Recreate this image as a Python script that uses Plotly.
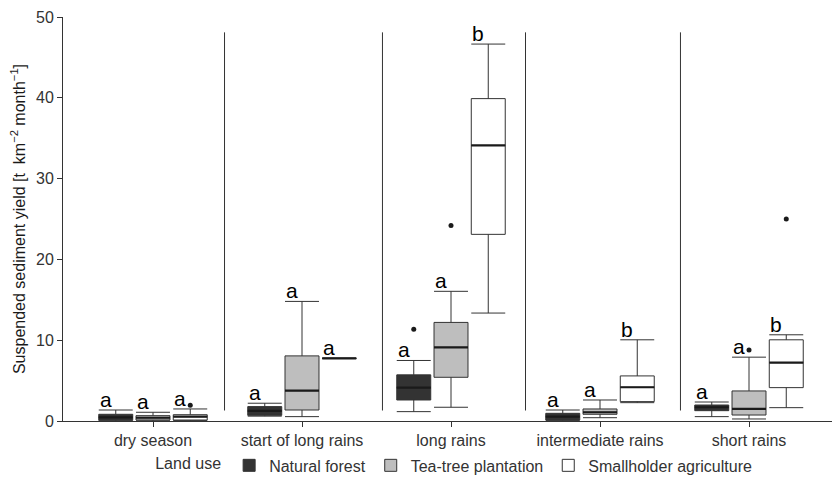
import plotly.graph_objects as go

seasons = ["dry season", "start of long rains", "long rains", "intermediate rains", "short rains"]
land_uses = ["Natural forest", "Tea-tree plantation", "Smallholder agriculture"]

forest_lower = [0.0, 0.6, 1.16, 0.05, 0.54]
forest_q1 = [0.08, 0.7, 2.6, 0.12, 1.28]
forest_median = [0.45, 1.25, 4.14, 0.55, 1.7]
forest_q3 = [0.83, 1.78, 5.71, 0.95, 1.98]
forest_upper = [1.36, 2.2, 7.49, 1.36, 2.35]
forest_out_season = ["long rains"]
forest_out_value = [11.37]
forest_letters = ["a", "a", "a", "a", "a"]

tea_lower = [0.03, 0.54, 1.7, 0.41, 0.25]
tea_q1 = [0.12, 1.36, 5.41, 0.83, 0.74]
tea_median = [0.4, 3.76, 9.1, 1.08, 1.49]
tea_q3 = [0.66, 8.06, 12.2, 1.49, 3.72]
tea_upper = [1.08, 14.8, 16.05, 2.6, 7.9]
tea_out_season = ["long rains", "short rains"]
tea_out_value = [24.2, 8.8]
tea_letters = ["a", "a", "a", "a", "a"]

sa_lower = [0.05, 7.75, 13.36, 2.27, 1.65]
sa_q1 = [0.12, 7.75, 23.1, 2.4, 4.13]
sa_median = [0.53, 7.75, 34.1, 4.18, 7.23]
sa_q3 = [0.78, 7.75, 39.9, 5.58, 10.05]
sa_upper = [1.49, 7.75, 46.65, 10.05, 10.67]
sa_out_season = ["dry season", "short rains"]
sa_out_value = [1.95, 25.0]
sa_letters = ["a", "a", "b", "b", "b"]

separator_x = [0.48, 1.54, 2.5, 3.54]
separator_y = [1.3, 48.1]

FONT = "Liberation Sans, Arial, sans-serif"
fills = ["#333333", "#BEBEBE", "#FFFFFF"]
offsets = [-0.25, 0.0, 0.25]
box_w = 0.228
W, H = 832, 487
ml, mt, mb = 63, 17, 66
xr = [-0.604, 4.557]
px_per_x = (W - ml) / (xr[1] - xr[0])

groups = [
    (forest_lower, forest_q1, forest_median, forest_q3, forest_upper, forest_out_season, forest_out_value, forest_letters),
    (tea_lower, tea_q1, tea_median, tea_q3, tea_upper, tea_out_season, tea_out_value, tea_letters),
    (sa_lower, sa_q1, sa_median, sa_q3, sa_upper, sa_out_season, sa_out_value, sa_letters),
]

fig = go.Figure()

for sx in separator_x:
    fig.add_trace(go.Scatter(x=[sx, sx], y=separator_y, mode="lines",
                             line=dict(color="#333333", width=1), showlegend=False, hoverinfo="skip"))

annotations = []
for gi, (lo, q1, med, q3, up, os_, ov, lets) in enumerate(groups):
    xs = [i + offsets[gi] for i in range(len(seasons))]
    fig.add_trace(go.Box(
        x=xs, q1=q1, median=med, q3=q3, lowerfence=lo, upperfence=up,
        width=box_w, whiskerwidth=1, boxpoints=False,
        fillcolor=fills[gi], line=dict(color="#333333", width=1),
        name=land_uses[gi], legendgroup=land_uses[gi], showlegend=True,
    ))
    # thicker median line
    fig.add_trace(go.Scatter(
        x=xs, y=med, mode="markers",
        marker=dict(symbol="line-ew", size=box_w * px_per_x / 1.4, color="#1a1a1a",
                    line=dict(color="#1a1a1a", width=2.2)),
        showlegend=False, hoverinfo="skip"))
    # outliers
    oxs = [seasons.index(s) + offsets[gi] for s in os_]
    fig.add_trace(go.Scatter(
        x=oxs, y=ov, mode="markers",
        marker=dict(symbol="circle", size=5, color="#1a1a1a"),
        showlegend=False, hoverinfo="skip"))
    for i, l in enumerate(lets):
        annotations.append(dict(x=xs[i], y=up[i], text=l, showarrow=False,
                                xanchor="center", yanchor="bottom", xshift=-10, yshift=-3,
                                font=dict(family=FONT, size=21, color="#000000")))

fig.update_layout(
    width=W, height=H,
    margin=dict(l=ml, r=0, t=mt, b=mb),
    paper_bgcolor="white", plot_bgcolor="white",
    boxmode="overlay",
    font=dict(family=FONT, size=16, color="#333333"),
    annotations=annotations,
    legend=dict(orientation="h", x=0.51, xanchor="center", y=-0.11, yanchor="middle",
                bgcolor="rgba(0,0,0,0)",
                title=dict(text="Land use", font=dict(size=16, color="#333333")),
                font=dict(size=16, color="#333333"), itemwidth=30, traceorder="normal"),
    xaxis=dict(range=xr, tickmode="array", tickvals=list(range(len(seasons))), ticktext=seasons,
               showgrid=False, zeroline=False, showline=True, linecolor="#333333", linewidth=1,
               ticks="outside", ticklen=5, tickcolor="#333333",
               tickfont=dict(size=16, color="#333333")),
    yaxis=dict(range=[0, 50], tickvals=[0, 10, 20, 30, 40, 50],
               showgrid=False, zeroline=False, showline=True, linecolor="#333333", linewidth=1,
               ticks="outside", ticklen=5, tickcolor="#333333",
               tickfont=dict(size=16, color="#333333"),
               title=dict(text="Suspended sediment yield [t  km<sup>−2</sup> month<sup>−1</sup>]",
                          font=dict(size=16, color="#1a1a1a"), standoff=6)),
)

fig.write_html("out.html")
